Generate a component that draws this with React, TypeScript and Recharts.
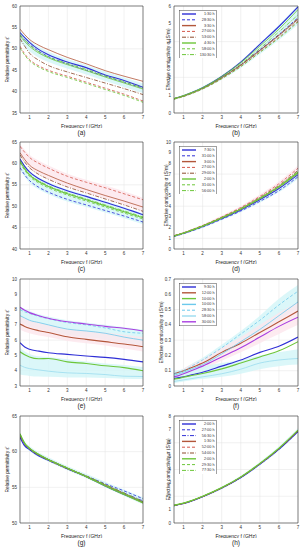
import React from "react"
import { ComposedChart, Line, Area, XAxis, YAxis, CartesianGrid, ReferenceLine } from "recharts"

// shared frequency grid (GHz)
const freq = [0.5, 0.75, 1, 1.5, 2, 3, 4, 5, 6, 7]
const freqTicks = [1, 2, 3, 4, 5, 6, 7]

// (a) relative permittivity
const a0130 = [53.8, 52.6, 51.5, 49.8, 48.6, 46.9, 45.6, 43.9, 42.6, 41.0]
const a2830 = [53.2, 52.0, 51.0, 49.4, 48.2, 46.5, 45.0, 43.6, 42.2, 40.8]
const a0330 = [54.6, 53.3, 52.2, 50.8, 49.8, 48.0, 46.5, 44.9, 43.6, 42.4]
const a2700 = [50.6, 48.8, 47.5, 46.0, 45.0, 43.6, 42.2, 40.8, 39.4, 37.8]
const a5300 = [52.4, 50.6, 49.0, 47.3, 46.1, 44.6, 43.3, 42.0, 40.7, 39.3]
const a0430 = [53.0, 51.7, 50.6, 49.0, 47.9, 46.3, 44.9, 43.4, 42.0, 40.6]
const a5800 = [50.2, 48.5, 47.2, 45.7, 44.7, 43.3, 41.9, 40.5, 39.1, 37.5]
const a13030 = [53.4, 52.1, 51.0, 49.3, 48.1, 46.6, 45.2, 43.7, 42.3, 40.9]
const aBandLo = [51.8, 50.4, 49.4, 47.9, 46.9, 45.4, 44.0, 42.5, 41.1, 39.7]
const aBandHi = [54.3, 53.0, 52.0, 50.4, 49.3, 47.6, 46.2, 44.7, 43.3, 41.9]

// (b) effective conductivity
const b0130 = [0.80, 0.88, 0.97, 1.18, 1.42, 2.05, 2.85, 3.85, 4.85, 5.95]
const b2830 = [0.80, 0.87, 0.95, 1.15, 1.38, 1.98, 2.70, 3.55, 4.40, 5.35]
const b0330 = [0.80, 0.87, 0.95, 1.15, 1.38, 1.97, 2.68, 3.50, 4.35, 5.25]
const b2700 = [0.78, 0.85, 0.93, 1.13, 1.35, 1.93, 2.62, 3.42, 4.25, 5.15]
const b5300 = [0.80, 0.87, 0.95, 1.15, 1.38, 1.98, 2.70, 3.52, 4.38, 5.30]
const b0430 = [0.82, 0.89, 0.98, 1.18, 1.42, 2.05, 2.82, 3.75, 4.70, 5.80]
const b5800 = [0.78, 0.85, 0.93, 1.12, 1.35, 1.92, 2.60, 3.40, 4.20, 5.10]
const b13030 = [0.80, 0.87, 0.96, 1.16, 1.40, 2.00, 2.75, 3.62, 4.55, 5.50]
const bBandLo = [0.74, 0.81, 0.89, 1.08, 1.30, 1.86, 2.52, 3.30, 4.10, 4.95]
const bBandHi = [0.86, 0.93, 1.02, 1.23, 1.48, 2.12, 2.92, 3.92, 4.95, 6.05]

// (c) relative permittivity
const c0730 = [61.0, 59.3, 58.0, 56.4, 55.3, 53.6, 52.3, 50.9, 49.5, 48.0]
const c3100b = [59.0, 57.3, 56.0, 54.4, 53.3, 51.6, 50.3, 49.0, 47.7, 46.3]
const c0300 = [62.5, 60.9, 59.6, 58.2, 57.2, 55.4, 53.9, 52.5, 51.2, 49.8]
const c2700 = [64.0, 62.6, 61.4, 60.0, 58.9, 57.0, 55.6, 54.3, 52.9, 51.5]
const c2900 = [62.0, 60.3, 59.0, 57.4, 56.3, 54.5, 53.1, 51.7, 50.3, 48.8]
const c0200 = [60.5, 58.7, 57.3, 55.7, 54.6, 52.9, 51.5, 50.1, 48.7, 47.3]
const c3100g = [60.2, 58.4, 57.0, 55.4, 54.3, 52.6, 51.2, 49.8, 48.4, 47.0]
const c5600 = [60.7, 58.9, 57.5, 55.9, 54.8, 53.1, 51.7, 50.3, 48.9, 47.5]
const cPinkLo = [62.0, 60.4, 59.1, 57.5, 56.4, 54.6, 53.2, 51.8, 50.4, 48.9]
const cPinkHi = [64.5, 63.2, 62.0, 60.6, 59.5, 57.6, 56.2, 54.9, 53.5, 52.0]
const cCyanLo = [58.5, 56.8, 55.5, 53.9, 52.8, 51.1, 49.8, 48.5, 47.2, 45.8]
const cCyanHi = [61.3, 59.6, 58.3, 56.7, 55.6, 53.9, 52.6, 51.2, 49.8, 48.3]

// (d) effective conductivity
const d0730 = [1.20, 1.33, 1.47, 1.78, 2.10, 2.85, 3.65, 4.60, 5.65, 6.95]
const d3100b = [1.18, 1.30, 1.43, 1.73, 2.05, 2.78, 3.55, 4.45, 5.45, 6.75]
const d0300 = [1.22, 1.35, 1.49, 1.80, 2.13, 2.90, 3.72, 4.70, 5.80, 7.10]
const d2700 = [1.25, 1.38, 1.52, 1.85, 2.20, 3.00, 3.88, 4.92, 6.10, 7.55]
const d2900 = [1.23, 1.36, 1.50, 1.83, 2.17, 2.95, 3.80, 4.82, 5.95, 7.35]
const d0200 = [1.22, 1.35, 1.49, 1.81, 2.14, 2.92, 3.75, 4.75, 5.85, 7.20]
const d3100g = [1.20, 1.33, 1.47, 1.79, 2.12, 2.88, 3.70, 4.68, 5.75, 7.05]
const d5600 = [1.21, 1.34, 1.48, 1.80, 2.13, 2.90, 3.72, 4.70, 5.80, 7.12]
const dPinkLo = [1.18, 1.30, 1.44, 1.75, 2.07, 2.82, 3.62, 4.55, 5.60, 6.90]
const dPinkHi = [1.30, 1.43, 1.58, 1.93, 2.30, 3.12, 4.02, 5.10, 6.30, 7.80]
const dCyanLo = [1.12, 1.24, 1.37, 1.66, 1.97, 2.68, 3.44, 4.32, 5.30, 6.55]
const dCyanHi = [1.24, 1.37, 1.51, 1.84, 2.18, 2.96, 3.80, 4.80, 5.92, 7.30]

// (e) relative permittivity
const e0930 = [5.83, 5.55, 5.40, 5.28, 5.18, 5.07, 4.96, 4.87, 4.74, 4.58]
const e1200 = [7.05, 6.90, 6.78, 6.62, 6.50, 6.22, 6.05, 5.90, 5.75, 5.57]
const e1000g = [5.24, 5.05, 4.90, 4.78, 4.80, 4.58, 4.47, 4.32, 4.20, 4.00]
const e1000c = [7.60, 7.45, 7.30, 7.15, 7.00, 6.72, 6.60, 6.45, 6.20, 6.00]
const e2830 = [8.00, 7.85, 7.75, 7.55, 7.40, 7.15, 7.00, 6.80, 6.55, 6.45]
const e5800 = [4.36, 4.22, 4.14, 4.05, 3.97, 3.86, 3.82, 3.75, 3.64, 3.62]
const e3000 = [8.15, 7.95, 7.80, 7.60, 7.43, 7.20, 7.06, 6.90, 6.78, 6.60]
const eTopLo = [7.20, 7.05, 6.90, 6.75, 6.60, 6.35, 6.20, 6.05, 5.85, 5.65]
const eTopHi = [8.20, 8.05, 7.90, 7.70, 7.55, 7.30, 7.15, 7.00, 6.85, 6.70]
const ePinkLo = [6.70, 6.55, 6.45, 6.30, 6.20, 5.95, 5.80, 5.65, 5.45, 5.25]
const ePinkHi = [7.60, 7.45, 7.30, 7.15, 7.00, 6.75, 6.62, 6.50, 6.35, 6.20]
const eLowLo = [3.75, 3.70, 3.66, 3.62, 3.60, 3.56, 3.55, 3.52, 3.48, 3.45]
const eLowHi = [5.50, 5.25, 5.10, 4.95, 4.90, 4.75, 4.60, 4.48, 4.38, 4.25]

// (f) effective conductivity
const f0930 = [0.050, 0.055, 0.060, 0.075, 0.090, 0.130, 0.170, 0.220, 0.260, 0.320]
const f1200 = [0.080, 0.090, 0.100, 0.125, 0.150, 0.220, 0.280, 0.350, 0.420, 0.490]
const f1000g = [0.045, 0.050, 0.058, 0.070, 0.082, 0.112, 0.150, 0.190, 0.230, 0.290]
const f1000c = [0.070, 0.080, 0.090, 0.115, 0.140, 0.210, 0.290, 0.370, 0.460, 0.550]
const f2830 = [0.080, 0.090, 0.100, 0.135, 0.170, 0.250, 0.340, 0.430, 0.530, 0.620]
const f5800 = [0.030, 0.035, 0.040, 0.050, 0.060, 0.080, 0.110, 0.150, 0.170, 0.180]
const f3000 = [0.060, 0.068, 0.080, 0.105, 0.130, 0.190, 0.250, 0.320, 0.390, 0.450]
const fTopLo = [0.065, 0.075, 0.085, 0.110, 0.135, 0.200, 0.270, 0.350, 0.430, 0.510]
const fTopHi = [0.090, 0.100, 0.115, 0.150, 0.185, 0.270, 0.360, 0.460, 0.570, 0.660]
const fPinkLo = [0.055, 0.062, 0.070, 0.090, 0.110, 0.165, 0.220, 0.280, 0.340, 0.400]
const fPinkHi = [0.090, 0.100, 0.115, 0.145, 0.175, 0.250, 0.320, 0.400, 0.480, 0.550]
const fLowLo = [0.020, 0.025, 0.030, 0.040, 0.045, 0.060, 0.080, 0.110, 0.130, 0.140]
const fLowHi = [0.100, 0.105, 0.110, 0.120, 0.130, 0.150, 0.170, 0.200, 0.220, 0.240]

// (g) relative permittivity
const g0200b = [62.0, 60.8, 60.3, 59.4, 58.8, 57.6, 56.5, 55.2, 54.0, 52.9]
const g2700b = [62.2, 61.0, 60.4, 59.5, 58.9, 57.7, 56.6, 55.5, 54.5, 53.4]
const g5630 = [62.1, 60.9, 60.3, 59.5, 58.8, 57.6, 56.5, 55.3, 54.2, 53.1]
const g0130 = [62.4, 61.1, 60.5, 59.6, 58.9, 57.7, 56.5, 55.3, 54.1, 52.9]
const g5200 = [62.3, 61.0, 60.4, 59.5, 58.8, 57.6, 56.5, 55.3, 54.1, 52.8]
const g5400 = [62.4, 61.1, 60.4, 59.5, 58.9, 57.7, 56.6, 55.4, 54.2, 53.0]
const g0200g = [62.5, 61.2, 60.5, 59.6, 58.9, 57.7, 56.5, 55.2, 54.0, 52.8]
const g2930 = [62.4, 61.1, 60.4, 59.5, 58.8, 57.6, 56.5, 55.3, 54.1, 52.9]
const g7730 = [62.5, 61.1, 60.5, 59.6, 58.9, 57.7, 56.6, 55.4, 54.2, 53.0]
const gBandLo = [62.0, 60.7, 60.1, 59.2, 58.6, 57.4, 56.3, 55.0, 53.8, 52.6]
const gBandHi = [62.7, 61.4, 60.8, 59.9, 59.2, 58.0, 56.9, 55.8, 54.7, 53.6]

// (h) effective conductivity
const h0200b = [1.30, 1.38, 1.46, 1.69, 1.97, 2.61, 3.40, 4.40, 5.52, 6.85]
const h2700b = [1.29, 1.37, 1.45, 1.68, 1.96, 2.60, 3.39, 4.38, 5.50, 6.83]
const h5630 = [1.30, 1.38, 1.46, 1.69, 1.97, 2.61, 3.40, 4.40, 5.52, 6.86]
const h0130 = [1.31, 1.39, 1.47, 1.70, 1.98, 2.62, 3.42, 4.42, 5.55, 6.90]
const h5200 = [1.31, 1.39, 1.47, 1.70, 1.98, 2.63, 3.43, 4.43, 5.56, 6.91]
const h5400 = [1.30, 1.38, 1.47, 1.70, 1.98, 2.62, 3.42, 4.42, 5.55, 6.90]
const h0200g = [1.33, 1.41, 1.49, 1.72, 2.00, 2.65, 3.45, 4.46, 5.60, 6.95]
const h2930 = [1.32, 1.40, 1.48, 1.71, 1.99, 2.64, 3.44, 4.44, 5.58, 6.93]
const h7730 = [1.32, 1.40, 1.48, 1.71, 1.99, 2.64, 3.44, 4.45, 5.59, 6.94]
const hBandLo = [1.25, 1.33, 1.41, 1.63, 1.90, 2.53, 3.31, 4.29, 5.40, 6.72]
const hBandHi = [1.36, 1.44, 1.52, 1.76, 2.05, 2.71, 3.53, 4.56, 5.72, 7.08]

const BLUE = "#2f2fd6"
const BROWN = "#b3573b"
const RED = "#d4584c"
const DKBROWN = "#8c4a2c"
const GREEN = "#6dc63a"
const CYAN = "#6cc9ec"
const LCYAN = "#9bdcef"
const PURPLE = "#a93fe0"
const BAND_CYAN = "#d2f5f8"
const BAND_PINK = "#fce6ec"
const DASH = "3 2"
const DASHDOT = "4 1.5 1 1.5"

const EPS = "Relative permittivity \u03b5'"
const SIG = "Effective conductivity \u03c3 (S/m)"

type Series = { name: string; values: number[]; color: string; dash?: string; width?: number }
type Band = { lo: number[]; hi: number[]; color: string }

const seriesA: Series[] = [
  { name: "1:30 h", values: a0130, color: BLUE, width: 1.1 },
  { name: "28:30 h", values: a2830, color: BLUE, dash: DASH },
  { name: "3:30 h", values: a0330, color: BROWN },
  { name: "27:00 h", values: a2700, color: RED, dash: DASH },
  { name: "53:00 h", values: a5300, color: DKBROWN, dash: DASHDOT },
  { name: "4:30 h", values: a0430, color: GREEN },
  { name: "58:00 h", values: a5800, color: GREEN, dash: DASH },
  { name: "130:30 h", values: a13030, color: GREEN, dash: DASHDOT },
]
const seriesB: Series[] = [
  { name: "1:30 h", values: b0130, color: BLUE, width: 1.1 },
  { name: "28:30 h", values: b2830, color: BLUE, dash: DASH },
  { name: "3:30 h", values: b0330, color: BROWN },
  { name: "27:00 h", values: b2700, color: RED, dash: DASH },
  { name: "53:00 h", values: b5300, color: DKBROWN, dash: DASHDOT },
  { name: "4:30 h", values: b0430, color: GREEN },
  { name: "58:00 h", values: b5800, color: GREEN, dash: DASH },
  { name: "130:30 h", values: b13030, color: GREEN, dash: DASHDOT },
]
const seriesC: Series[] = [
  { name: "7:30 h", values: c0730, color: BLUE, width: 1.1 },
  { name: "31:00 h", values: c3100b, color: BLUE, dash: DASH },
  { name: "3:00 h", values: c0300, color: BROWN },
  { name: "27:00 h", values: c2700, color: RED, dash: DASH },
  { name: "29:00 h", values: c2900, color: DKBROWN, dash: DASHDOT },
  { name: "2:00 h", values: c0200, color: GREEN, width: 1.1 },
  { name: "31:00 h", values: c3100g, color: GREEN, dash: DASH },
  { name: "56:00 h", values: c5600, color: GREEN, dash: DASHDOT },
]
const seriesD: Series[] = [
  { name: "7:30 h", values: d0730, color: BLUE, width: 1.1 },
  { name: "31:00 h", values: d3100b, color: BLUE, dash: DASH },
  { name: "3:00 h", values: d0300, color: BROWN },
  { name: "27:00 h", values: d2700, color: RED, dash: DASH },
  { name: "29:00 h", values: d2900, color: DKBROWN, dash: DASHDOT },
  { name: "2:00 h", values: d0200, color: GREEN, width: 1.1 },
  { name: "31:00 h", values: d3100g, color: GREEN, dash: DASH },
  { name: "56:00 h", values: d5600, color: GREEN, dash: DASHDOT },
]
const seriesE: Series[] = [
  { name: "9:30 h", values: e0930, color: BLUE, width: 1.1 },
  { name: "12:00 h", values: e1200, color: BROWN, width: 1.1 },
  { name: "10:00 h", values: e1000g, color: GREEN, width: 1.1 },
  { name: "10:00 h", values: e1000c, color: CYAN },
  { name: "28:30 h", values: e2830, color: CYAN, dash: DASH },
  { name: "58:00 h", values: e5800, color: LCYAN },
  { name: "30:00 h", values: e3000, color: PURPLE, width: 1.1 },
]
const seriesF: Series[] = [
  { name: "9:30 h", values: f0930, color: BLUE, width: 1.1 },
  { name: "12:00 h", values: f1200, color: BROWN, width: 1.1 },
  { name: "10:00 h", values: f1000g, color: GREEN, width: 1.1 },
  { name: "10:00 h", values: f1000c, color: CYAN },
  { name: "28:30 h", values: f2830, color: CYAN, dash: DASH },
  { name: "58:00 h", values: f5800, color: LCYAN },
  { name: "30:00 h", values: f3000, color: PURPLE, width: 1.1 },
]
const seriesG: Series[] = [
  { name: "2:00 h", values: g0200b, color: BLUE, width: 1.1 },
  { name: "27:00 h", values: g2700b, color: BLUE, dash: DASH },
  { name: "56:30 h", values: g5630, color: BLUE, dash: DASHDOT },
  { name: "1:30 h", values: g0130, color: BROWN },
  { name: "52:00 h", values: g5200, color: RED, dash: DASH },
  { name: "54:00 h", values: g5400, color: DKBROWN, dash: DASHDOT },
  { name: "2:00 h", values: g0200g, color: GREEN, width: 1.1 },
  { name: "29:30 h", values: g2930, color: GREEN, dash: DASH },
  { name: "77:30 h", values: g7730, color: GREEN, dash: DASHDOT },
]
const seriesH: Series[] = [
  { name: "2:00 h", values: h0200b, color: BLUE, width: 1.1 },
  { name: "27:00 h", values: h2700b, color: BLUE, dash: DASH },
  { name: "56:30 h", values: h5630, color: BLUE, dash: DASHDOT },
  { name: "1:30 h", values: h0130, color: BROWN },
  { name: "52:00 h", values: h5200, color: RED, dash: DASH },
  { name: "54:00 h", values: h5400, color: DKBROWN, dash: DASHDOT },
  { name: "2:00 h", values: h0200g, color: GREEN, width: 1.1 },
  { name: "29:30 h", values: h2930, color: GREEN, dash: DASH },
  { name: "77:30 h", values: h7730, color: GREEN, dash: DASHDOT },
]

const PLOT_H = 107
const AXIS_H = 15
const LEG_STEP = 5.8

interface PanelProps {
  left: number
  top: number
  relTop: number
  col: 0 | 1
  series: Series[]
  bands: Band[]
  yDomain: [number, number]
  yTicks: number[]
  yLabel: string
  caption: string
  legend?: boolean
  labelX?: number
}

function Panel({ left, top, relTop, col, series, bands, yDomain, yTicks, yLabel, caption, legend, labelX }: PanelProps) {
  const width = col === 0 ? 150 : 155
  const yAxisW = col === 0 ? 20 : 24
  const height = relTop + PLOT_H + AXIS_H
  const lx = labelX ?? (col === 0 ? 7.5 : 18.5)
  const cy = relTop + PLOT_H / 2
  const plotCx = yAxisW + (width - yAxisW - 7) / 2

  const data = freq.map((f, i) => {
    const row: any = { f }
    series.forEach((s, k) => (row["s" + k] = s.values[i]))
    bands.forEach((b, k) => (row["b" + k] = [b.lo[i], b.hi[i]]))
    return row
  })

  const yTitle = () => (
    <text
      x={lx}
      y={cy}
      transform={`rotate(-90 ${lx} ${cy})`}
      textAnchor="middle"
      dominantBaseline="central"
      fontSize={4.8}
      fill="#222"
    >
      {yLabel}
    </text>
  )

  return (
    <div style={{ position: "absolute", left, top, width, height: 140 }}>
      <ComposedChart width={width} height={height} data={data} margin={{ top: relTop, right: 7, bottom: 0, left: 0 }}>
        <CartesianGrid stroke="#e3e3e3" strokeWidth={0.5} />
        <XAxis
          dataKey="f"
          type="number"
          domain={[0.5, 7]}
          ticks={freqTicks}
          allowDataOverflow
          tickLine={false}
          tickSize={2}
          tickMargin={1}
          height={AXIS_H}
          axisLine={{ stroke: "#333", strokeWidth: 0.6 }}
          tick={{ fontSize: 4.5, fill: "#333" }}
          label={{ value: "Frequency f (GHz)", position: "insideBottom", offset: 0, fontSize: 5, fill: "#222" }}
        />
        <YAxis
          type="number"
          domain={yDomain}
          ticks={yTicks}
          allowDataOverflow
          width={yAxisW}
          tickLine={false}
          tickSize={2}
          tickMargin={1}
          axisLine={{ stroke: "#333", strokeWidth: 0.6 }}
          tick={{ fontSize: 4.5, fill: "#333" }}
          label={yTitle}
        />
        {bands.map((b, k) => (
          <Area
            key={"b" + k}
            dataKey={"b" + k}
            type="monotone"
            stroke="none"
            fill={b.color}
            fillOpacity={0.8}
            isAnimationActive={false}
          />
        ))}
        {series.map((s, k) => (
          <Line
            key={"s" + k}
            dataKey={"s" + k}
            type="monotone"
            stroke={s.color}
            strokeWidth={s.width ?? 0.8}
            strokeDasharray={s.dash}
            dot={false}
            isAnimationActive={false}
          />
        ))}
        <ReferenceLine y={yDomain[1]} stroke="#333" strokeWidth={0.6} />
        <ReferenceLine x={7} stroke="#333" strokeWidth={0.6} />
      </ComposedChart>
      <div
        style={{
          position: "absolute",
          left: plotCx - 20,
          width: 40,
          top: relTop + 123,
          textAlign: "center",
          fontSize: 6.5,
          color: "#222",
          lineHeight: "8px",
        }}
      >
        {caption}
      </div>
      {legend && (
        <svg
          style={{ position: "absolute", left: 29, top: relTop + 3.5 }}
          width={38}
          height={series.length * LEG_STEP + 2.5}
        >
          <rect
            x={0.3}
            y={0.3}
            width={37.4}
            height={series.length * LEG_STEP + 1.9}
            fill="#fff"
            stroke="#444"
            strokeWidth={0.5}
          />
          {series.map((s, k) => {
            const y = 4 + k * LEG_STEP
            return (
              <g key={k}>
                <line
                  x1={3}
                  x2={17}
                  y1={y}
                  y2={y}
                  stroke={s.color}
                  strokeWidth={s.dash ? 1 : 1.4}
                  strokeDasharray={s.dash}
                />
                <text x={35.5} y={y} textAnchor="end" dominantBaseline="central" fontSize={3.8} fill="#333">
                  {s.name}
                </text>
              </g>
            )
          })}
        </svg>
      )}
    </div>
  )
}

export default function App() {
  return (
    <div
      style={{
        position: "absolute",
        left: 0,
        top: 0,
        width: 305,
        height: 550,
        background: "#fff",
        fontFamily: "'Liberation Sans', Arial, sans-serif",
        overflow: "hidden",
      }}
    >
      <Panel left={0} top={0} relTop={6} col={0} series={seriesA}
        bands={[{ lo: aBandLo, hi: aBandHi, color: BAND_CYAN }]}
        yDomain={[35, 60]} yTicks={[35, 40, 45, 50, 55, 60]} yLabel={EPS} caption="(a)" />
      <Panel left={150} top={0} relTop={6} col={1} series={seriesB}
        bands={[{ lo: bBandLo, hi: bBandHi, color: BAND_CYAN }]}
        yDomain={[0, 6]} yTicks={[0, 1, 2, 3, 4, 5, 6]} yLabel={SIG} caption="(b)" legend />
      <Panel left={0} top={135} relTop={7} col={0} series={seriesC}
        bands={[{ lo: cPinkLo, hi: cPinkHi, color: BAND_PINK }, { lo: cCyanLo, hi: cCyanHi, color: BAND_CYAN }]}
        yDomain={[40, 65]} yTicks={[40, 45, 50, 55, 60, 65]} yLabel={EPS} caption="(c)" />
      <Panel left={150} top={135} relTop={7} col={1} series={seriesD}
        bands={[{ lo: dPinkLo, hi: dPinkHi, color: BAND_PINK }, { lo: dCyanLo, hi: dCyanHi, color: BAND_CYAN }]}
        yDomain={[0, 10]} yTicks={[0, 1, 2, 3, 4, 5, 6, 7, 8, 9, 10]} yLabel={SIG} caption="(d)" legend labelX={16.5} />
      <Panel left={0} top={270} relTop={9} col={0} series={seriesE}
        bands={[
          { lo: eTopLo, hi: eTopHi, color: BAND_CYAN },
          { lo: ePinkLo, hi: ePinkHi, color: BAND_PINK },
          { lo: eLowLo, hi: eLowHi, color: BAND_CYAN },
        ]}
        yDomain={[3, 10]} yTicks={[3, 4, 5, 6, 7, 8, 9, 10]} yLabel={EPS} caption="(e)" />
      <Panel left={150} top={270} relTop={9} col={1} series={seriesF}
        bands={[
          { lo: fTopLo, hi: fTopHi, color: BAND_CYAN },
          { lo: fPinkLo, hi: fPinkHi, color: BAND_PINK },
          { lo: fLowLo, hi: fLowHi, color: BAND_CYAN },
        ]}
        yDomain={[0, 0.7]} yTicks={[0, 0.1, 0.2, 0.3, 0.4, 0.5, 0.6, 0.7]} yLabel={SIG} caption="(f)" legend labelX={11} />
      <Panel left={0} top={410} relTop={6} col={0} series={seriesG}
        bands={[{ lo: gBandLo, hi: gBandHi, color: BAND_CYAN }]}
        yDomain={[50, 65]} yTicks={[50, 55, 60, 65]} yLabel={EPS} caption="(g)" />
      <Panel left={150} top={410} relTop={6} col={1} series={seriesH}
        bands={[{ lo: hBandLo, hi: hBandHi, color: BAND_CYAN }]}
        yDomain={[0, 8]} yTicks={[0, 1, 2, 3, 4, 5, 6, 7, 8]} yLabel={SIG} caption="(h)" legend />
    </div>
  )
}
